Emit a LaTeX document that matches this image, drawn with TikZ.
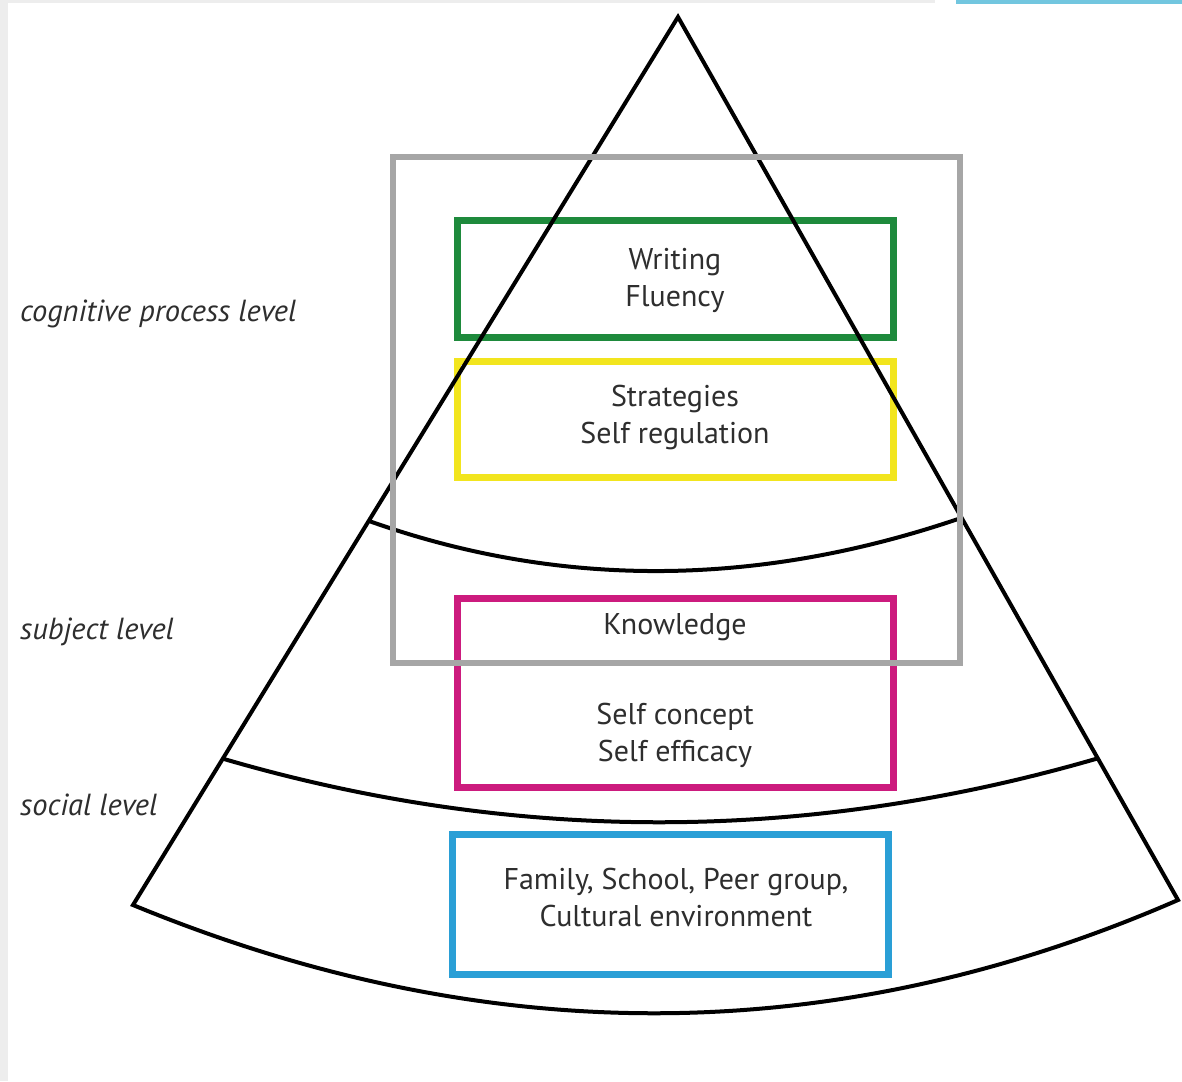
\documentclass[tikz,border=0pt]{standalone}
\usepackage{fontspec}
\setmainfont{PT Sans}
\definecolor{txt}{HTML}{2E2E2E}
\definecolor{grayframe}{HTML}{A6A6A6}
\definecolor{greenbox}{HTML}{1E8A3C}
\definecolor{yellowbox}{HTML}{F2E51E}
\definecolor{magentabox}{HTML}{CC1B7E}
\definecolor{bluebox}{HTML}{2A9FD6}
\definecolor{edgegray}{HTML}{EDEDED}
\definecolor{topblue}{HTML}{72C6DF}
\begin{document}
\begin{tikzpicture}[x=1pt,y=-1pt,
  boxstyle/.style={draw, line width=7pt, rectangle, inner sep=0pt, fill=none},
  boxtext/.style={text=txt, font=\fontsize{30}{37}\selectfont, align=center, inner sep=0pt},
  levellabel/.style={text=txt, font=\fontsize{30.5}{32}\selectfont\itshape, anchor=west, inner sep=0pt},
  pyr/.style={draw=black, line width=4pt, line join=miter}]
\useasboundingbox (0,0) rectangle (1182,1081);
\fill[white] (0,0) rectangle (1182,1081);
% screenshot edges
\fill[edgegray] (0,0) rectangle (8,1081);
\fill[edgegray] (0,0) rectangle (935,3);
\fill[topblue] (956,0) rectangle (1182,4);

% coloured boxes
\node[boxstyle, draw=greenbox, minimum width=436pt, minimum height=117pt] (green) at (675,278.5) {};
\node[boxstyle, draw=yellowbox, minimum width=436pt, minimum height=116pt] (yellow) at (675,419) {};
\node[boxstyle, draw=magentabox, minimum width=436pt, minimum height=189pt] (magenta) at (675,692.5) {};
\node[boxstyle, draw=bluebox, minimum width=436pt, minimum height=140pt] (blue) at (670,904) {};

% pyramid
\coordinate (apex) at (678,17);
\coordinate (bl) at (133,905);
\coordinate (br) at (1178,900);
\coordinate (u1) at (369,521);
\coordinate (u2) at (961,518);
\coordinate (m1) at (224,759);
\coordinate (m2) at (1099,758);
\draw[pyr] (apex) -- (bl) .. controls (487.3,1051) and (835.7,1049.3) .. (br) -- cycle;
\draw[pyr] (u1) .. controls (559.7,588.7) and (757,587.7) .. (u2);
\draw[pyr] (m1) .. controls (514.7,843.7) and (806.3,843.3) .. (m2);

% gray frame
\node[boxstyle, draw=grayframe, line width=6pt, minimum width=567pt, minimum height=506pt] (frame) at (676.5,410) {};

% texts
\node[boxtext] (t1) at (675,280) {Writing\\Fluency};
\node[boxtext] (t2) at (675,417) {Strategies\\Self regulation};
\node[boxtext] (t3) at (675,627) {Knowledge};
\node[boxtext] (t4) at (675,735) {Self concept\\Self efficacy};
\node[boxtext] (t5) at (676,897) {Family, School, Peer group,\\Cultural environment};

\node[levellabel] (l1) at (20,314) {cognitive process level};
\node[levellabel] (l2) at (20,632) {subject level};
\node[levellabel] (l3) at (20,805) {social level};
\end{tikzpicture}
\end{document}
